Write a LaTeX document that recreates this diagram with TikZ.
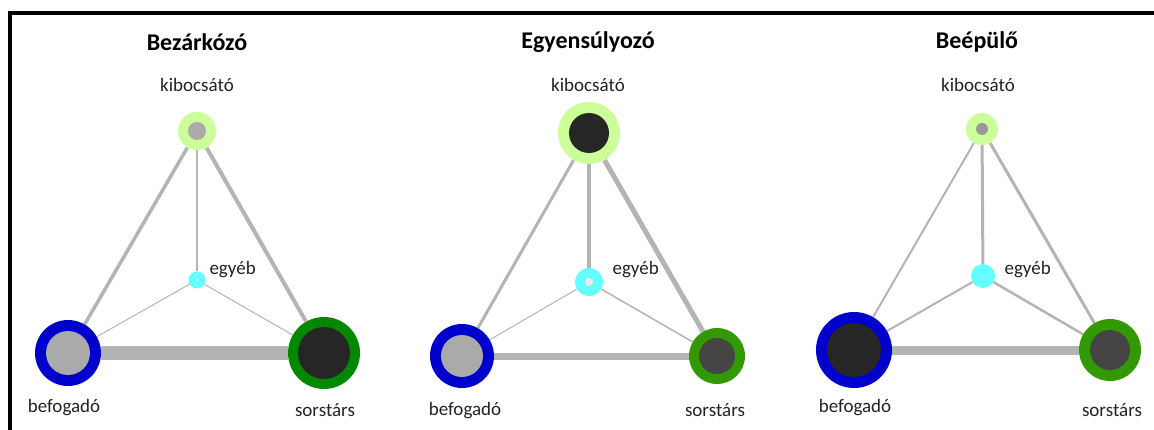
\documentclass[tikz,border=0pt]{standalone}
\usepackage{fontspec}
\setmainfont{Carlito}
\usepackage{tikz}
\usetikzlibrary{calc,positioning,backgrounds}
\definecolor{ringblue}{HTML}{0000CC}
\definecolor{ringgreen}{HTML}{008800}
\definecolor{ringolive}{HTML}{339900}
\definecolor{ringlime}{HTML}{CCFF99}
\definecolor{ringcyan}{HTML}{66FFFF}
\definecolor{coregray}{HTML}{AAAAAA}
\definecolor{coremid}{HTML}{999999}
\definecolor{coredark}{HTML}{262626}
\definecolor{coreslate}{HTML}{444444}
\definecolor{tiegray}{HTML}{B4B4B4}
\definecolor{inkgray}{HTML}{222222}
\tikzset{hub/.style n args={4}{circle, fill=#1, minimum size=#2, inner sep=0pt,
    path picture={\fill[#3] (path picture bounding box.center) circle (#4);}}}
\tikzstyle{tie}   = [draw=tiegray]
\tikzstyle{title} = [font=\fontsize{24}{28}\selectfont\bfseries, text=black]
\tikzstyle{role}  = [font=\fontsize{19}{22}\selectfont, text=inkgray]

\begin{document}
\begin{tikzpicture}[x=1pt,y=-1pt]
        \useasboundingbox (0,0) rectangle (1154,430);
        \draw[line width=4pt] (10,432) -- (10,13) -- (1156,13);

        % Bezarkozo
        \node[title] (t1) at (197,42) {Bezárkózó};
        \node[role] (lk1) at (197,85) {kibocsátó};
        \node[hub={ringlime}{38pt}{coregray}{9pt}] (k1) at (197,131) {};
        \node[hub={ringcyan}{17pt}{ringcyan!40!white}{1pt}] (e1) at (197,280) {};
        \node[hub={ringblue}{66pt}{coregray}{22pt}] (b1) at (68,353) {};
        \node[hub={ringgreen}{72pt}{coredark}{26pt}] (s1) at (324,353) {};
        \node[role, anchor=west] (le1) at (206,270) {egyéb};
        \node[role] (lb1) at (64,408) {befogadó};
        \node[role] (ls1) at (325,410) {sorstárs};
        \begin{scope}[on background layer]
        \draw[tie, line width=3.5pt] (k1) -- (b1);
        \draw[tie, line width=4pt] (k1) -- (s1);
        \draw[tie, line width=1.5pt] (k1) -- (e1);
        \draw[tie, line width=1pt] (e1) -- (b1);
        \draw[tie, line width=1pt] (e1) -- (s1);
        \draw[tie, line width=14pt] (b1) -- (s1);
        \end{scope}

        % Egyensulyozo
        \node[title] (t2) at (588,42) {Egyensúlyozó};
        \node[role] (lk2) at (588,85) {kibocsátó};
        \node[hub={ringlime}{62pt}{coredark}{20pt}] (k2) at (589,133) {};
        \node[hub={ringcyan}{28pt}{white!92!black}{4pt}] (e2) at (589,282) {};
        \node[hub={ringblue}{64pt}{coregray}{21pt}] (b2) at (462,356) {};
        \node[hub={ringolive}{56pt}{coreslate}{18pt}] (s2) at (717,356) {};
        \node[role, anchor=west] (le2) at (609,270) {egyéb};
        \node[role] (lb2) at (465,411) {befogadó};
        \node[role] (ls2) at (715,410) {sorstárs};
        \begin{scope}[on background layer]
        \draw[tie, line width=3pt] (k2) -- (b2);
        \draw[tie, line width=5pt] (k2) -- (s2);
        \draw[tie, line width=4pt] (k2) -- (e2);
        \draw[tie, line width=1pt] (e2) -- (b2);
        \draw[tie, line width=1.5pt] (e2) -- (s2);
        \draw[tie, line width=7pt] (b2) -- (s2);
        \end{scope}

        % Beepulo
        \node[title] (t3) at (977,42) {Beépülő};
        \node[role] (lk3) at (978,85) {kibocsátó};
        \node[hub={ringlime}{32pt}{coremid}{6pt}] (k3) at (982,129) {};
        \node[hub={ringcyan}{24pt}{ringcyan!40!white}{1.2pt}] (e3) at (983,276) {};
        \node[hub={ringblue}{76pt}{coredark}{27pt}] (b3) at (854,350) {};
        \node[hub={ringolive}{62pt}{coreslate}{20pt}] (s3) at (1110,350) {};
        \node[role, anchor=west] (le3) at (1001,270) {egyéb};
        \node[role] (lb3) at (855,408) {befogadó};
        \node[role] (ls3) at (1112,410) {sorstárs};
        \begin{scope}[on background layer]
        \draw[tie, line width=2pt] (k3) -- (b3);
        \draw[tie, line width=3pt] (k3) -- (s3);
        \draw[tie, line width=3pt] (k3) -- (e3);
        \draw[tie, line width=2pt] (e3) -- (b3);
        \draw[tie, line width=2.5pt] (e3) -- (s3);
        \draw[tie, line width=9pt] (b3) -- (s3);
        \end{scope}
    \end{tikzpicture}
\end{document}
